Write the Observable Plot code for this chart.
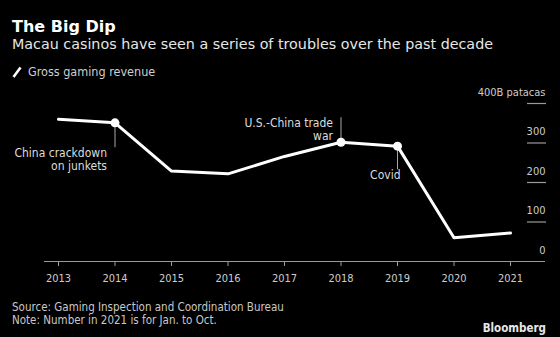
<!DOCTYPE html>
<html>
<head>
<meta charset="utf-8">
<script src="https://cdn.jsdelivr.net/npm/d3@7"></script>
<script src="https://cdn.jsdelivr.net/npm/@observablehq/plot@0.6"></script>
<style>
  html, body { margin: 0; padding: 0; background: #000; }
  body { width: 560px; height: 337px; position: relative; overflow: hidden; }
  .abs { position: absolute; white-space: nowrap; }
  #title { left: 12px; top: 19px; font: bold 16px/16px "DejaVu Sans"; color: #fff; }
  #subtitle { left: 12px; top: 37px; font: 14.3px/14.3px "DejaVu Sans"; color: #e6e6e6; }
  #legend { left: 12px; top: 64px; font: 12.5px/16px "DejaVu Sans Condensed"; color: #cfcfcf; display: flex; align-items: center; }
  #legend svg { margin-right: 6px; }
  #chart { left: 0; top: 80px; }
  #source { left: 12px; top: 302px; font: 11.5px/11.5px "DejaVu Sans Condensed"; color: #c8c8c8; }
  #note { left: 12px; top: 315px; font: 11.5px/11.5px "DejaVu Sans Condensed"; color: #c8c8c8; }
  #logo { right: 14px; top: 323px; font: bold 11.5px/11.5px "DejaVu Sans Condensed"; color: #e8e8e8; }
</style>
</head>
<body>
<div id="title" class="abs">The Big Dip</div>
<div id="subtitle" class="abs">Macau casinos have seen a series of troubles over the past decade</div>
<div id="legend" class="abs"><svg width="10" height="12"><line x1="1.5" y1="11" x2="8.5" y2="1.5" stroke="#fff" stroke-width="2.6"/></svg><span>Gross gaming revenue</span></div>
<div id="chart" class="abs"></div>
<div id="source" class="abs">Source: Gaming Inspection and Coordination Bureau</div>
<div id="note" class="abs">Note: Number in 2021 is for Jan. to Oct.</div>
<div id="logo" class="abs">Bloomberg</div>
<script>
// Data
const years = [2013, 2014, 2015, 2016, 2017, 2018, 2019, 2020, 2021];
const revenue = [360, 351, 229, 222, 266, 302, 292, 60, 72];
const yTickValues = [100, 200, 300, 400];
const yLabelValues = [0, 100, 200, 300, 400];
const yLabelTexts = ["0", "100", "200", "300", "400B patacas"];
const eventYears = [2014, 2018, 2019];
const eventLabels = ["China crackdown\non junkets", "U.S.-China trade\nwar", "Covid"];
const eventLabelEnds = [288, 364, 232];

const series = years.map((year, i) => ({year, value: revenue[i]}));
const events = eventYears.map((year, i) => ({
  year, value: revenue[years.indexOf(year)], end: eventLabelEnds[i], label: eventLabels[i]
}));
const yLabels = yLabelValues.map((v, i) => ({value: v, label: yLabelTexts[i]}));

const chart = Plot.plot({
  width: 560,
  height: 212,
  marginTop: 23,
  marginBottom: 31,
  marginLeft: 44,
  marginRight: 15,
  style: {background: "#000", color: "#cccccc", fontFamily: "DejaVu Sans Condensed", fontSize: "11px"},
  x: {domain: [2013, 2021], insetLeft: 14, insetRight: 35},
  y: {domain: [0, 400]},
  marks: [
    Plot.ruleY([0], {stroke: "#9a9a9a", strokeWidth: 1.2}),
    Plot.axisX(years, {tickSize: 5, tickPadding: 8, tickFormat: d => String(d), stroke: "#9a9a9a", fill: "#cccccc", fontSize: 11, label: null}),
    Plot.axisY(yTickValues, {anchor: "right", tickSize: 19, dx: -19, tickFormat: () => "", stroke: "#9a9a9a", strokeWidth: 1.2, label: null}),
    Plot.text(yLabels, {y: "value", text: "label", frameAnchor: "right", textAnchor: "end", dy: -11.5, fill: "#cccccc", fontSize: 11}),
    Plot.ruleX(events, {x: "year", y1: "value", y2: "end", stroke: "#a8a8a8", strokeWidth: 1}),
    Plot.line(series, {x: "year", y: "value", stroke: "#ffffff", strokeWidth: 3}),
    Plot.dot(events, {x: "year", y: "value", r: 4.5, fill: "#ffffff"}),
    Plot.text(events.filter(d => d.year !== 2019), {x: "year", y: "end", text: "label", textAnchor: "end", lineAnchor: "top", lineHeight: 1.1, dx: -8, fill: "#dddddd", fontSize: 12}),
    Plot.text(events.filter(d => d.year === 2019), {x: "year", y: "end", text: "label", textAnchor: "end", lineAnchor: "top", lineHeight: 1.1, dx: 3, fill: "#dddddd", fontSize: 12})
  ]
});
document.getElementById("chart").appendChild(chart);
</script>
</body>
</html>
